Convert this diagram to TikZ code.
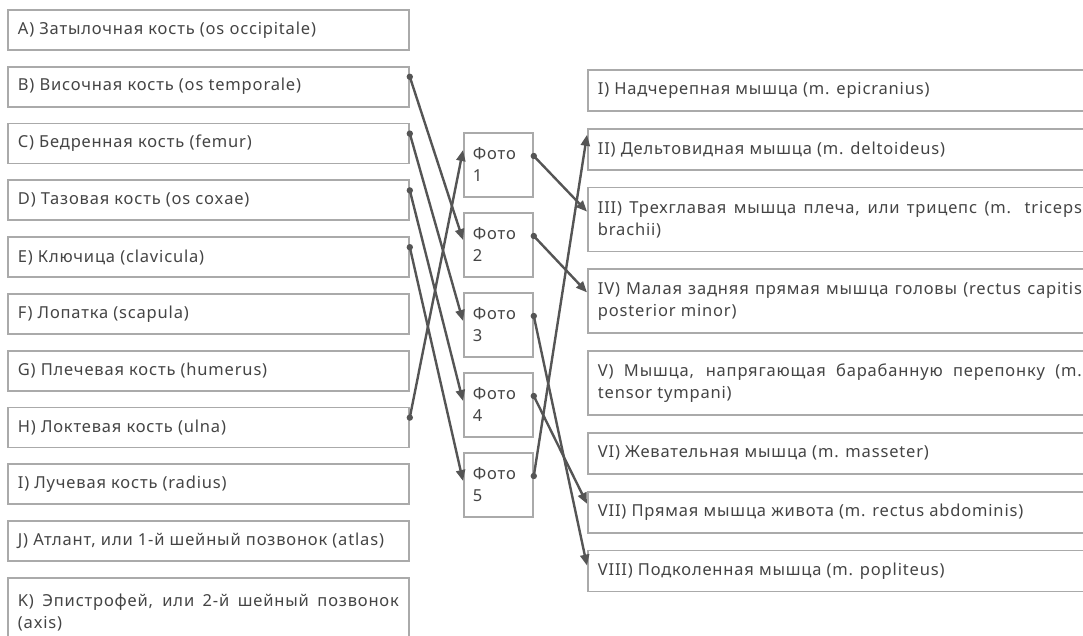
\documentclass[tikz,border=0pt]{standalone}
\usepackage{fontspec}
\setmainfont[LetterSpace=5]{Noto Sans}
\usetikzlibrary{arrows.meta,positioning}
\definecolor{boxgray}{HTML}{AAAAAA}
\definecolor{linkgray}{HTML}{555555}
\definecolor{textgray}{HTML}{444444}
\hyphenpenalty=10000
\exhyphenpenalty=10000

\begin{document}
\begin{tikzpicture}[x=1pt, y=-1pt,
    item/.style={draw=boxgray, line width=1.8pt, anchor=north west, text=textgray,
      font=\fontsize{16.5}{22}\selectfont, align=justify, inner xsep=10pt, inner ysep=6pt},
    bone/.style={item, text width=381pt, minimum height=40pt},
    muscle/.style={item, text width=484pt, minimum height=41pt},
    foto/.style={item, align=left, text width=51pt, inner xsep=9pt, minimum height=64pt},
    tall/.style={minimum height=64pt},
    link/.style={draw=linkgray, line width=2.4pt, -{Triangle[length=11pt, width=9pt]}},
    pin/.style={fill=linkgray}]
  \useasboundingbox (0,0) rectangle (1083,636);

  % bones
  \foreach \n/\txt [count=\i from 0] in {
      A/{A) Затылочная кость (os occipitale)},
      B/{B) Височная кость (os temporale)},
      C/{C) Бедренная кость (femur)},
      D/{D) Тазовая кость (os coxae)},
      E/{E) Ключица (clavicula)},
      F/{F) Лопатка (scapula)},
      G/{G) Плечевая кость (humerus)},
      H/{H) Локтевая кость (ulna)},
      I/{I) Лучевая кость (radius)},
      J/{J) Атлант, или 1-й шейный позвонок (atlas)}}
    \node[bone] (bone\n) at (7, {9+56.8*\i}) {\txt};
  \node[bone, minimum height=70pt] (boneK) at (7, 577) {K) Эпистрофей, или 2-й шейный позвонок\linebreak (axis)};

  % photos
  \foreach \i in {1,...,5}
    \node[foto] (foto\i) at (463, {132+80*(\i-1)}) {Фото\\\i};

  % muscles
  \node[muscle] (mus1) at (587, 69) {I) Надчерепная мышца (m. epicranius)};
  \node[muscle, below=16pt of mus1] (mus2) {II) Дельтовидная мышца (m. deltoideus)};
  \node[muscle, tall, below=16pt of mus2] (mus3) {III) Трехглавая мышца плеча, или трицепс (m. triceps\linebreak brachii)};
  \node[muscle, tall, below=16pt of mus3] (mus4) {IV) Малая задняя прямая мышца головы (rectus capitis\linebreak posterior minor)};
  \node[muscle, tall, below=16pt of mus4] (mus5) {V) Мышца, напрягающая барабанную перепонку (m.\linebreak tensor tympani)};
  \node[muscle, below=16pt of mus5] (mus6) {VI) Жевательная мышца (m. masseter)};
  \node[muscle, below=16pt of mus6] (mus7) {VII) Прямая мышца живота (m. rectus abdominis)};
  \node[muscle, below=16pt of mus7] (mus8) {VIII) Подколенная мышца (m. popliteus)};

  % bone -> photo
  \foreach \a/\b/\dy in {boneB/foto2/28, boneC/foto3/29, boneD/foto4/29, boneE/foto5/29, boneH/foto1/18} {
    \fill[pin] ([yshift=-11pt]\a.north east) circle (3.2pt);
    \draw[link] ([yshift=-11pt]\a.north east) -- ([yshift=-\dy pt]\b.north west);
  }
  % photo -> muscle
  \foreach \a/\b/\dy in {foto1/mus3/25, foto2/mus4/24, foto3/mus8/16, foto4/mus7/13, foto5/mus2/7} {
    \fill[pin] ([yshift=-24pt]\a.north east) circle (3.2pt);
    \draw[link] ([yshift=-24pt]\a.north east) -- ([yshift=-\dy pt]\b.north west);
  }
\end{tikzpicture}
\end{document}
